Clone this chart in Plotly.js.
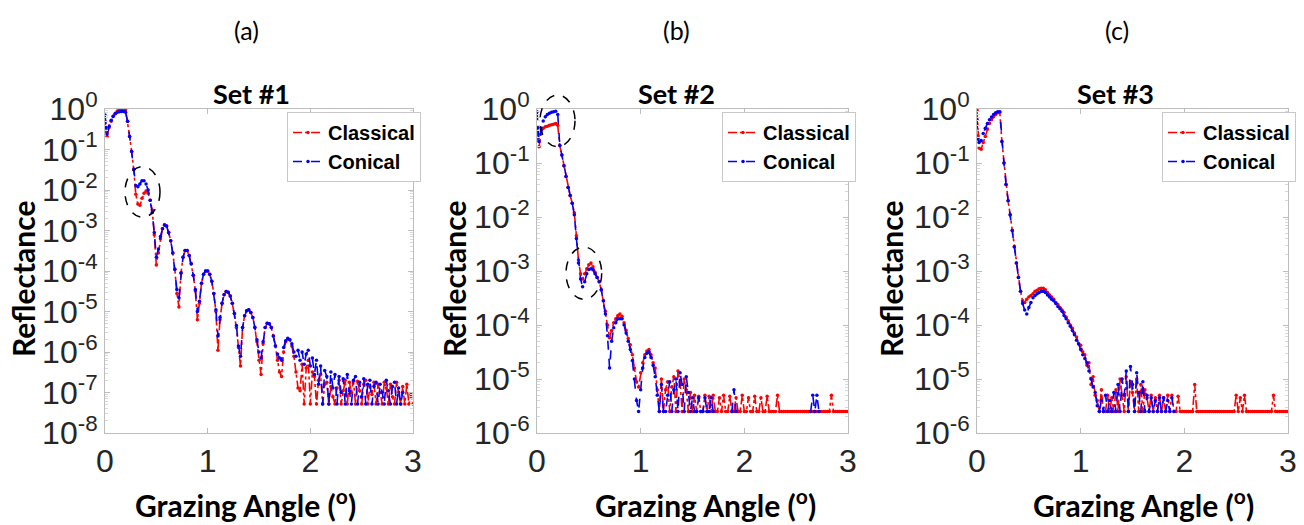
<!DOCTYPE html>
<html>
<head>
<meta charset="utf-8">
<script src="https://cdn.plot.ly/plotly-3.0.1.min.js"></script>
<style>html,body{margin:0;padding:0;background:#fff;}#chart{width:1304px;height:525px;}</style>
</head>
<body>
<div id="chart"></div>
<script>
// Grazing angle grid (degrees), shared by all three panels
const grazingAngle = [
  0, 0.01, 0.02, 0.04, 0.06, 0.08, 0.10, 0.12, 0.14, 0.16, 0.18,
  0.20, 0.22, 0.24, 0.26, 0.28, 0.30, 0.32, 0.34, 0.36, 0.38,
  0.40, 0.42, 0.44, 0.46, 0.48, 0.50, 0.52, 0.54, 0.56, 0.58,
  0.60, 0.62, 0.64, 0.66, 0.68, 0.70, 0.72, 0.74, 0.76, 0.78,
  0.80, 0.82, 0.84, 0.86, 0.88, 0.90, 0.92, 0.94, 0.96, 0.98,
  1.00, 1.02, 1.04, 1.06, 1.08, 1.10, 1.12, 1.14, 1.16, 1.18,
  1.20, 1.22, 1.24, 1.26, 1.28, 1.30, 1.32, 1.34, 1.36, 1.38,
  1.40, 1.42, 1.44, 1.46, 1.48, 1.50, 1.52, 1.54, 1.56, 1.58,
  1.60, 1.62, 1.64, 1.66, 1.68, 1.70, 1.72, 1.74, 1.76, 1.78,
  1.80, 1.82, 1.84, 1.86, 1.88, 1.90, 1.92, 1.94, 1.96, 1.98,
  2.00, 2.02, 2.04, 2.06, 2.08, 2.10, 2.12, 2.14, 2.16, 2.18,
  2.20, 2.22, 2.24, 2.26, 2.28, 2.30, 2.32, 2.34, 2.36, 2.38,
  2.40, 2.42, 2.44, 2.46, 2.48, 2.50, 2.52, 2.54, 2.56, 2.58,
  2.60, 2.62, 2.64, 2.66, 2.68, 2.70, 2.72, 2.74, 2.76, 2.78,
  2.80, 2.82, 2.84, 2.86, 2.88, 2.90, 2.92, 2.94, 2.96, 2.98,
  3.00
];

// Set #1
const set1Classical = [
  0.49, 0.28, 0.21, 0.35, 0.50, 0.66, 0.79, 0.89, 0.95, 1.0, 1.0,
  0.95, 0.50, 0.21, 8.9e-2, 3.2e-2, 7.9e-3, 4.5e-3, 4.2e-3, 6.3e-3, 8.3e-3,
  9.5e-3, 8.3e-3, 5.6e-3, 3.2e-3, 7.9e-4, 1.4e-4, 2.8e-4, 6.3e-4, 1.1e-3, 1.4e-3,
  1.3e-3, 8.9e-4, 5.6e-4, 2.8e-4, 1.1e-4, 2.8e-5, 1.3e-5, 8.9e-5, 2.2e-4, 3.2e-4,
  3.2e-4, 2.4e-4, 1.5e-4, 7.9e-5, 3.2e-5, 6.3e-6, 1.6e-5, 5.0e-5, 8.3e-5, 1.0e-4,
  1.0e-4, 8.3e-5, 5.6e-5, 2.8e-5, 1.0e-5, 1.1e-6, 6.3e-6, 1.6e-5, 2.6e-5, 3.1e-5,
  3.0e-5, 2.4e-5, 1.6e-5, 8.9e-6, 4.0e-6, 1.3e-6, 4.5e-7, 4.0e-6, 7.9e-6, 1.05e-5,
  1.1e-5, 9.5e-6, 7.1e-6, 4.0e-6, 1.8e-6, 6.3e-7, 2.8e-7, 1.6e-6, 4.0e-6, 5.1e-6,
  5.0e-6, 4.0e-6, 2.5e-6, 1.4e-6, 6.3e-7, 3.2e-7, 2.5e-7, 1.0e-6, 1.8e-6, 2.1e-6,
  2.0e-6, 1.4e-6, 7.9e-7, 3.2e-7, 1.3e-7, 1.1e-7, 5.0e-7, 5.2e-8, 4.0e-7, 6.3e-7,
  5.2e-8, 3.2e-7, 2.5e-7, 5.2e-8, 2.0e-7, 2.8e-7, 5.2e-8, 1.6e-7, 1.8e-7, 5.2e-8,
  1.4e-7, 7.9e-8, 5.2e-8, 1.3e-7, 2.0e-7, 5.2e-8, 1.1e-7, 2.0e-7, 5.2e-8, 1.8e-7,
  1.0e-7, 1.9e-7, 5.2e-8, 1.9e-7, 1.1e-7, 5.2e-8, 1.6e-7, 2.0e-7, 5.2e-8, 1.4e-7,
  8.9e-8, 1.8e-7, 5.2e-8, 1.6e-7, 1.0e-7, 5.2e-8, 1.8e-7, 1.3e-7, 5.2e-8, 1.6e-7,
  7.9e-8, 5.2e-8, 1.8e-7, 1.0e-7, 5.2e-8, 1.4e-7, 5.2e-8, 1.6e-7, 5.2e-8, 8.9e-8,
  5.2e-8
];
const set1Conical = [
  0.71, 0.35, 0.24, 0.38, 0.53, 0.66, 0.76, 0.83, 0.85, 0.87, 0.87,
  0.83, 0.50, 0.21, 8.9e-2, 3.2e-2, 1.3e-2, 1.2e-2, 1.4e-2, 1.7e-2, 1.7e-2,
  1.4e-2, 1.0e-2, 5.6e-3, 2.8e-3, 8.9e-4, 2.2e-4, 3.5e-4, 7.1e-4, 1.1e-3, 1.35e-3,
  1.3e-3, 8.9e-4, 5.6e-4, 2.8e-4, 1.1e-4, 3.5e-5, 2.2e-5, 8.9e-5, 2.2e-4, 3.2e-4,
  3.2e-4, 2.4e-4, 1.5e-4, 7.9e-5, 3.5e-5, 1.0e-5, 1.8e-5, 5.0e-5, 8.3e-5, 1.0e-4,
  1.0e-4, 8.3e-5, 5.6e-5, 2.8e-5, 1.1e-5, 2.5e-6, 7.1e-6, 1.6e-5, 2.6e-5, 3.1e-5,
  3.0e-5, 2.4e-5, 1.6e-5, 8.9e-6, 4.5e-6, 1.4e-6, 7.9e-7, 4.0e-6, 7.9e-6, 1.05e-5,
  1.1e-5, 9.5e-6, 7.1e-6, 4.0e-6, 2.0e-6, 1.0e-6, 7.1e-7, 1.8e-6, 4.0e-6, 5.1e-6,
  5.0e-6, 4.0e-6, 2.5e-6, 1.4e-6, 8.9e-7, 7.1e-7, 6.3e-7, 1.3e-6, 1.9e-6, 2.2e-6,
  2.0e-6, 1.6e-6, 1.0e-6, 7.9e-7, 1.1e-6, 6.3e-7, 1.0e-6, 5.0e-7, 8.9e-7, 1.1e-6,
  4.5e-7, 7.1e-7, 2.8e-7, 6.3e-7, 1.6e-7, 4.5e-7, 5.2e-8, 3.5e-7, 2.5e-7, 5.2e-8,
  3.2e-7, 1.3e-7, 2.8e-7, 5.2e-8, 2.5e-7, 1.0e-7, 2.2e-7, 5.2e-8, 2.8e-7, 1.1e-7,
  5.2e-8, 2.0e-7, 2.5e-7, 5.2e-8, 1.8e-7, 7.9e-8, 2.2e-7, 5.2e-8, 1.6e-7, 2.0e-7,
  5.2e-8, 1.4e-7, 1.8e-7, 5.2e-8, 1.6e-7, 1.0e-7, 5.2e-8, 2.0e-7, 1.1e-7, 5.2e-8,
  1.4e-7, 1.8e-7, 5.2e-8, 1.3e-7, 5.2e-8, 1.0e-7
];

// Set #2
const set2Classical = [
  0.45, 0.28, 0.20, 0.35, 0.44, 0.47, 0.48, 0.50, 0.51, 0.52, 0.54,
  0.50, 0.21, 0.14, 8.9e-2, 5.6e-2, 3.5e-2, 2.5e-2, 1.8e-2, 1.2e-2, 4.5e-3,
  1.6e-3, 8.9e-4, 7.1e-4, 8.9e-4, 1.1e-3, 1.3e-3, 1.4e-3, 1.2e-3, 9.5e-4, 7.6e-4,
  6.3e-4, 4.5e-4, 2.8e-4, 1.8e-4, 1.0e-4, 5.8e-5, 7.9e-5, 1.1e-4, 1.3e-4, 1.5e-4,
  1.6e-4, 1.45e-4, 1.1e-4, 7.9e-5, 5.6e-5, 4.3e-5, 2.8e-5, 1.6e-5, 8.9e-6, 7.1e-6,
  1.3e-5, 2.0e-5, 2.8e-5, 3.3e-5, 3.5e-5, 2.8e-5, 2.0e-5, 1.6e-5, 6.3e-6, 2.5e-6,
  1.0e-5, 2.5e-6, 6.3e-6, 8.9e-6, 2.5e-6, 7.1e-6, 1.1e-5, 2.5e-6, 1.4e-5, 8.9e-6,
  2.5e-6, 1.0e-5, 6.3e-6, 2.5e-6, 5.6e-6, 2.5e-6, 5.0e-6, 2.5e-6, 4.8e-6, 2.5e-6,
  2.5e-6, 5.0e-6, 2.5e-6, 4.8e-6, 2.5e-6, 5.0e-6, 2.5e-6, 2.5e-6, 4.5e-6, 2.5e-6,
  5.0e-6, 2.5e-6, 2.5e-6, 4.8e-6, 2.5e-6, 2.5e-6, 4.5e-6, 2.5e-6, 2.5e-6, 5.0e-6,
  2.5e-6, 2.5e-6, 4.5e-6, 2.5e-6, 2.5e-6, 4.8e-6, 2.5e-6, 2.5e-6, 4.5e-6, 2.5e-6,
  2.5e-6, 4.8e-6, 2.5e-6, 2.5e-6, 2.5e-6, 2.5e-6, 5.0e-6, 2.5e-6, 2.5e-6, 2.5e-6,
  2.5e-6, 2.5e-6, 2.5e-6, 2.5e-6, 2.5e-6, 2.5e-6, 2.5e-6, 2.5e-6, 2.5e-6, 2.5e-6,
  2.5e-6, 2.5e-6, 2.5e-6, 2.5e-6, 2.5e-6, 2.5e-6, 2.5e-6, 2.5e-6, 2.5e-6, 2.5e-6,
  2.5e-6, 2.5e-6, 5.0e-6, 2.5e-6, 2.5e-6, 2.5e-6, 2.5e-6, 2.5e-6, 2.5e-6, 2.5e-6,
  2.5e-6
];
const set2Conical = [
  0.89, 0.45, 0.25, 0.40, 0.60, 0.72, 0.79, 0.83, 0.87, 0.89, 0.91,
  0.79, 0.21, 0.14, 8.9e-2, 5.6e-2, 3.5e-2, 2.5e-2, 1.8e-2, 1.1e-2, 4.0e-3,
  1.4e-3, 7.1e-4, 5.1e-4, 6.3e-4, 8.9e-4, 1.07e-3, 1.1e-3, 1.05e-3, 8.9e-4, 7.6e-4,
  6.3e-4, 4.5e-4, 2.8e-4, 1.6e-4, 6.3e-5, 1.6e-5, 5.0e-5, 8.9e-5, 1.1e-4, 1.3e-4,
  1.3e-4, 1.3e-4, 1.0e-4, 7.1e-5, 5.0e-5, 3.5e-5, 2.2e-5, 1.0e-5, 4.0e-6, 2.5e-6,
  6.3e-6, 1.6e-5, 2.5e-5, 3.0e-5, 3.2e-5, 2.5e-5, 1.8e-5, 1.1e-5, 5.0e-6, 2.5e-6,
  7.9e-6, 2.5e-6, 2.5e-6, 5.0e-6, 8.9e-6, 2.5e-6, 6.3e-6, 1.0e-5, 2.5e-6, 1.3e-5,
  7.9e-6, 2.5e-6, 1.1e-5, 5.6e-6, 2.5e-6, 4.5e-6, 2.5e-6, 2.5e-6, 4.5e-6, 2.5e-6,
  2.5e-6, 4.5e-6, 2.5e-6, 2.5e-6, 4.5e-6, 2.5e-6, null, null, null, null,
  null, null, null, null, 2.5e-6, 6.3e-6, 2.5e-6, null, null, null,
  null, null, null, null, null, null, null, null, null, null,
  null, null, null, null, null, null, null, null, null, null,
  null, null, null, null, null, null, null, null, null, null,
  null, null, 2.5e-6, 5.0e-6, 2.5e-6, 5.0e-6, 2.5e-6
];

// Set #3
const set3Classical = [
  0.95, 0.32, 0.19, 0.18, 0.24, 0.31, 0.42, 0.54, 0.63, 0.72, 0.79,
  0.85, 0.87, 0.25, 0.10, 4.0e-2, 2.0e-2, 1.1e-2, 5.6e-3, 2.8e-3, 1.4e-3,
  7.6e-4, 4.2e-4, 2.8e-4, 2.6e-4, 3.0e-4, 3.3e-4, 3.5e-4, 3.8e-4, 4.2e-4, 4.4e-4,
  4.7e-4, 4.8e-4, 4.8e-4, 4.5e-4, 4.0e-4, 3.6e-4, 3.3e-4, 3.0e-4, 2.6e-4, 2.4e-4,
  2.1e-4, 1.9e-4, 1.7e-4, 1.4e-4, 1.2e-4, 1.0e-4, 8.7e-5, 7.1e-5, 6.0e-5, 4.5e-5,
  4.2e-5, 3.2e-5, 2.8e-5, 1.8e-5, 2.0e-5, 7.9e-6, 1.1e-5, 5.0e-6, 4.0e-6, 2.5e-6,
  6.3e-6, 2.5e-6, 2.5e-6, 5.0e-6, 2.5e-6, 4.5e-6, 2.5e-6, 6.3e-6, 2.5e-6, 1.0e-5,
  5.0e-6, 2.5e-6, 1.1e-5, 2.5e-6, 8.9e-6, 5.6e-6, 2.5e-6, 1.0e-5, 2.5e-6, 7.9e-6,
  2.5e-6, 6.3e-6, 4.5e-6, 2.5e-6, 5.0e-6, 2.5e-6, 4.5e-6, 2.5e-6, 5.0e-6, 2.5e-6,
  4.5e-6, 2.5e-6, 5.0e-6, 2.5e-6, 5.0e-6, 2.5e-6, 2.5e-6, 4.8e-6, 2.5e-6, 2.5e-6,
  2.5e-6, 2.5e-6, 2.5e-6, 2.5e-6, 2.5e-6, 7.9e-6, 2.5e-6, 2.5e-6, 2.5e-6, 2.5e-6,
  2.5e-6, 2.5e-6, 2.5e-6, 2.5e-6, 2.5e-6, 2.5e-6, 2.5e-6, 2.5e-6, 2.5e-6, 2.5e-6,
  2.5e-6, 2.5e-6, 2.5e-6, 2.5e-6, 2.5e-6, 5.0e-6, 2.5e-6, 4.5e-6, 2.5e-6, 5.0e-6,
  2.5e-6, 2.5e-6, 2.5e-6, 2.5e-6, 2.5e-6, 2.5e-6, 2.5e-6, 2.5e-6, 2.5e-6, 2.5e-6,
  2.5e-6, 2.5e-6, 2.5e-6, 5.0e-6, 2.5e-6, 2.5e-6, 2.5e-6, 2.5e-6, 2.5e-6, 2.5e-6,
  2.5e-6
];
const set3Conical = [
  0.63, 0.28, 0.24, 0.26, 0.35, 0.44, 0.54, 0.63, 0.71, 0.79, 0.85,
  0.89, 0.89, 0.25, 0.10, 4.0e-2, 2.0e-2, 1.1e-2, 5.6e-3, 2.8e-3, 1.4e-3,
  7.6e-4, 4.2e-4, 2.5e-4, 1.9e-4, 1.6e-4, 2.1e-4, 2.6e-4, 3.2e-4, 3.5e-4, 3.8e-4,
  4.0e-4, 4.2e-4, 4.2e-4, 4.0e-4, 3.6e-4, 3.3e-4, 3.0e-4, 2.8e-4, 2.5e-4, 2.2e-4,
  2.0e-4, 1.8e-4, 1.5e-4, 1.3e-4, 1.1e-4, 9.5e-5, 7.9e-5, 6.6e-5, 5.2e-5, 4.5e-5,
  3.5e-5, 2.8e-5, 2.4e-5, 2.0e-5, 1.4e-5, 1.0e-5, 7.1e-6, 5.6e-6, 3.2e-6, 2.5e-6,
  4.0e-6, 2.5e-6, 5.0e-6, 2.5e-6, 4.0e-6, 2.5e-6, 5.6e-6, 2.5e-6, 7.9e-6, 2.5e-6,
  1.0e-5, 5.0e-6, 1.4e-5, 2.5e-6, 1.7e-5, 7.9e-6, 2.5e-6, 1.3e-5, 5.6e-6, 2.5e-6,
  8.9e-6, 2.5e-6, 5.0e-6, 2.5e-6, 4.5e-6, 2.5e-6, 4.0e-6, 2.5e-6, 4.5e-6, 2.5e-6,
  4.5e-6, 2.5e-6, 4.0e-6, 2.5e-6, 4.5e-6, 2.5e-6
];

// Axis ticks
const angleTicks = [0, 1, 2, 3];
const angleTickText = ['0', '1', '2', '3'];
const reflTicks8 = [1e-8, 1e-7, 1e-6, 1e-5, 1e-4, 1e-3, 1e-2, 1e-1, 1];
const reflText8 = ['10<sup>-8</sup>', '10<sup>-7</sup>', '10<sup>-6</sup>', '10<sup>-5</sup>',
  '10<sup>-4</sup>', '10<sup>-3</sup>', '10<sup>-2</sup>', '10<sup>-1</sup>', '10<sup>0</sup>'];
const reflTicks6 = [1e-6, 1e-5, 1e-4, 1e-3, 1e-2, 1e-1, 1];
const reflText6 = ['10<sup>-6</sup>', '10<sup>-5</sup>', '10<sup>-4</sup>', '10<sup>-3</sup>',
  '10<sup>-2</sup>', '10<sup>-1</sup>', '10<sup>0</sup>'];
const seriesNames = ['Classical', 'Conical'];
const panelLabels = ['(a)', '(b)', '(c)'];
const panelTitles = ['Set #1', 'Set #2', 'Set #3'];

function minorTicks(lo, hi) {
  const v = [];
  for (let e = lo; e < hi; e++) for (let m = 2; m <= 9; m++) v.push(m * Math.pow(10, e));
  return v;
}

const W = 1304, H = 525;
const px = x => x / W;
const py = y => 1 - y / H;

const frameColor = '#bdbdbd';
const tickFont = {family: 'Liberation Sans, Arial, sans-serif', size: 32, color: '#262626'};

function xAxis(l, r, anchor) {
  return {
    domain: [px(l), px(r)], anchor: anchor, range: [0, 3],
    tickmode: 'array', tickvals: angleTicks, ticktext: angleTickText,
    ticks: 'inside', ticklen: 5, tickcolor: frameColor,
    showline: true, linecolor: frameColor, linewidth: 1, mirror: 'ticks',
    showgrid: false, zeroline: false, tickfont: tickFont, fixedrange: true
  };
}
function yAxis(anchor, lo, tv, tt) {
  return {
    domain: [py(433), py(109)], anchor: anchor, type: 'log', range: [lo, 0],
    tickmode: 'array', tickvals: tv, ticktext: tt,
    ticks: 'inside', ticklen: 5, tickcolor: frameColor,
    minor: {tickmode: 'array', tickvals: minorTicks(lo, 0), ticks: 'inside', ticklen: 3, tickcolor: '#d9d9d9'},
    showline: true, linecolor: frameColor, linewidth: 1, mirror: 'ticks',
    showgrid: false, zeroline: false, tickfont: tickFont, fixedrange: true
  };
}

function series(y, i, xa, ya, lg) {
  const red = i === 0;
  return {
    x: grazingAngle, y: y, name: seriesNames[i], type: 'scatter', mode: 'lines+markers',
    xaxis: xa, yaxis: ya, legend: lg, connectgaps: false,
    line: {color: red ? '#ff0000' : '#0000ff', width: 1.6, dash: red ? 'dashdot' : 'dash'},
    marker: {color: red ? '#ff0000' : '#0000ff', size: 3.5}
  };
}

const data = [
  series(set1Classical, 0, 'x', 'y', 'legend'),
  series(set1Conical, 1, 'x', 'y', 'legend'),
  series(set2Classical, 0, 'x2', 'y2', 'legend2'),
  series(set2Conical, 1, 'x2', 'y2', 'legend2'),
  series(set3Classical, 0, 'x3', 'y3', 'legend3'),
  series(set3Conical, 1, 'x3', 'y3', 'legend3')
];

function legendAt(l, t) {
  return {
    x: px(l), y: py(t), xanchor: 'left', yanchor: 'top',
    bgcolor: '#ffffff', bordercolor: '#c8c8c8', borderwidth: 1,
    font: {family: 'Liberation Sans, Arial, sans-serif', size: 20, color: '#000', weight: 'bold'},
    itemwidth: 30, tracegroupgap: 0
  };
}

const textFont = {family: 'Lato, "Open Sans", sans-serif', color: '#000'};
const annotations = [];
const titleX = [251, 676, 1115];
const labelX = [247, 677, 1117];
const reflX = [23, 454, 891];
const angleX = [245, 705, 1143];
for (let i = 0; i < 3; i++) {
  annotations.push({xref: 'paper', yref: 'paper', x: px(labelX[i]), y: py(30), text: panelLabels[i],
    showarrow: false, xanchor: 'center', yanchor: 'middle', font: Object.assign({size: 25}, textFont)});
  annotations.push({xref: 'paper', yref: 'paper', x: px(titleX[i]), y: py(94), text: '<b>' + panelTitles[i] + '</b>',
    showarrow: false, xanchor: 'center', yanchor: 'middle', font: Object.assign({size: 27}, textFont)});
  annotations.push({xref: 'paper', yref: 'paper', x: px(reflX[i]), y: py(279), text: '<b>Reflectance</b>', textangle: -90,
    showarrow: false, xanchor: 'center', yanchor: 'middle', font: Object.assign({size: 30}, textFont)});
  annotations.push({xref: 'paper', yref: 'paper', x: px(angleX[i]), y: py(503), text: '<b>Grazing Angle (<sup>o</sup>)</b>',
    showarrow: false, xanchor: 'center', yanchor: 'middle', font: Object.assign({size: 30}, textFont)});
}

const ellipse = (l, t, r, b) => ({type: 'circle', xref: 'paper', yref: 'paper',
  x0: px(l), x1: px(r), y0: py(b), y1: py(t), line: {color: '#000', width: 1.5, dash: 'dash'}, layer: 'above'});

const layout = {
  width: W, height: H,
  margin: {l: 0, r: 0, t: 0, b: 0},
  paper_bgcolor: '#ffffff', plot_bgcolor: '#ffffff',
  showlegend: true,
  xaxis: xAxis(105, 413, 'y'),
  yaxis: yAxis('x', -8, reflTicks8, reflText8),
  xaxis2: xAxis(537, 848, 'y2'),
  yaxis2: yAxis('x2', -6, reflTicks6, reflText6),
  xaxis3: xAxis(977, 1288, 'y3'),
  yaxis3: yAxis('x3', -6, reflTicks6, reflText6),
  legend: legendAt(287, 112),
  legend2: legendAt(722, 112),
  legend3: legendAt(1162, 112),
  annotations: annotations,
  shapes: [
    ellipse(125, 166.7, 160, 217.3),
    ellipse(540, 95, 575, 146.7),
    ellipse(566, 247, 601.7, 299.3)
  ]
};

Plotly.newPlot('chart', data, layout, {staticPlot: true, displayModeBar: false});
</script>
</body>
</html>
